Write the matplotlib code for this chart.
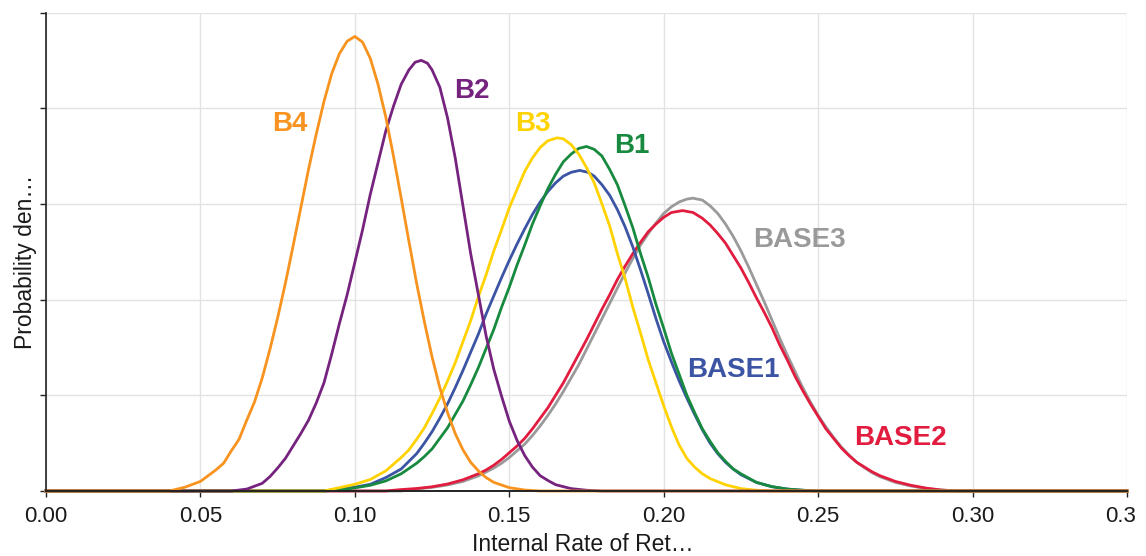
import matplotlib
matplotlib.use("Agg")
import matplotlib.pyplot as plt
import matplotlib.transforms as mtransforms

# density curves as (irr, density) points
b4 = [(0.000, 0), (0.040, 0), (0.045, 0.04), (0.050, 0.10), (0.055, 0.22), (0.0575, 0.29),
      (0.060, 0.42), (0.0625, 0.54), (0.065, 0.74), (0.0675, 0.93), (0.070, 1.18), (0.0725, 1.48),
      (0.075, 1.81), (0.0775, 2.17), (0.080, 2.56), (0.0825, 2.96), (0.085, 3.36), (0.0875, 3.73),
      (0.090, 4.07), (0.0925, 4.36), (0.095, 4.57), (0.0975, 4.70), (0.100, 4.75), (0.1025, 4.69),
      (0.105, 4.52), (0.1075, 4.25), (0.110, 3.91), (0.1125, 3.50), (0.115, 3.06), (0.1175, 2.61),
      (0.120, 2.17), (0.1225, 1.77), (0.125, 1.40), (0.1275, 1.08), (0.130, 0.82), (0.1325, 0.60),
      (0.135, 0.43), (0.1375, 0.30), (0.140, 0.21), (0.1425, 0.14), (0.145, 0.09), (0.150, 0.035),
      (0.155, 0.01), (0.160, 0), (0.350, 0)]

b2 = [(0.000, 0), (0.060, 0), (0.065, 0.02), (0.070, 0.08), (0.0725, 0.15), (0.075, 0.24),
      (0.0775, 0.34), (0.080, 0.47), (0.0825, 0.60), (0.085, 0.74), (0.0875, 0.92), (0.090, 1.13),
      (0.0925, 1.43), (0.095, 1.75), (0.0975, 2.05), (0.100, 2.39), (0.1025, 2.73), (0.105, 3.10),
      (0.1075, 3.43), (0.110, 3.76), (0.1125, 4.02), (0.115, 4.25), (0.1175, 4.40), (0.1195, 4.48),
      (0.1215, 4.50), (0.1235, 4.47), (0.125, 4.40), (0.1275, 4.22), (0.130, 3.90), (0.1325, 3.48),
      (0.135, 2.98), (0.1375, 2.48), (0.140, 2.05), (0.1425, 1.62), (0.145, 1.27), (0.1475, 0.99),
      (0.150, 0.73), (0.1525, 0.53), (0.155, 0.37), (0.1575, 0.25), (0.160, 0.16), (0.1625, 0.11),
      (0.165, 0.066), (0.170, 0.025), (0.175, 0.008), (0.180, 0), (0.350, 0)]

b3 = [(0.000, 0), (0.090, 0), (0.095, 0.035), (0.100, 0.07), (0.105, 0.12), (0.110, 0.21),
      (0.115, 0.35), (0.1175, 0.43), (0.120, 0.54), (0.1225, 0.66), (0.125, 0.81), (0.1275, 0.97),
      (0.130, 1.15), (0.1325, 1.34), (0.135, 1.56), (0.1375, 1.78), (0.140, 2.03), (0.1425, 2.26),
      (0.145, 2.51), (0.1475, 2.73), (0.150, 2.96), (0.1525, 3.15), (0.155, 3.34), (0.1575, 3.48),
      (0.160, 3.59), (0.1625, 3.66), (0.1655, 3.69), (0.1675, 3.68), (0.170, 3.62), (0.1725, 3.52),
      (0.175, 3.38), (0.1775, 3.22), (0.180, 3.00), (0.1825, 2.77), (0.185, 2.48), (0.1875, 2.22),
      (0.190, 1.92), (0.1925, 1.65), (0.195, 1.37), (0.1975, 1.13), (0.200, 0.89), (0.2025, 0.67),
      (0.205, 0.48), (0.2075, 0.34), (0.210, 0.25), (0.2125, 0.18), (0.215, 0.13), (0.220, 0.065),
      (0.225, 0.025), (0.230, 0.008), (0.235, 0), (0.350, 0)]

b1 = [(0.000, 0), (0.090, 0), (0.095, 0.01), (0.100, 0.033), (0.105, 0.06), (0.110, 0.105),
      (0.115, 0.18), (0.120, 0.29), (0.1225, 0.36), (0.125, 0.44), (0.1275, 0.55), (0.130, 0.66),
      (0.1325, 0.80), (0.135, 0.94), (0.1375, 1.11), (0.140, 1.29), (0.1425, 1.49), (0.145, 1.69),
      (0.1475, 1.92), (0.150, 2.13), (0.1525, 2.36), (0.155, 2.57), (0.1575, 2.79), (0.160, 2.98),
      (0.1625, 3.16), (0.165, 3.31), (0.1675, 3.44), (0.170, 3.52), (0.1725, 3.58), (0.175, 3.60),
      (0.1775, 3.57), (0.180, 3.50), (0.1825, 3.36), (0.185, 3.20), (0.1875, 2.98), (0.190, 2.75),
      (0.1925, 2.48), (0.195, 2.23), (0.1975, 1.95), (0.200, 1.70), (0.2025, 1.44), (0.205, 1.22),
      (0.2075, 1.00), (0.210, 0.82), (0.2125, 0.65), (0.215, 0.52), (0.2175, 0.40), (0.220, 0.31),
      (0.2225, 0.23), (0.225, 0.18), (0.230, 0.09), (0.235, 0.046), (0.240, 0.02), (0.245, 0.008),
      (0.250, 0), (0.350, 0)]

base1 = [(0.000, 0), (0.090, 0), (0.095, 0.02), (0.100, 0.04), (0.105, 0.07), (0.110, 0.14),
         (0.115, 0.23), (0.1175, 0.31), (0.120, 0.39), (0.1225, 0.50), (0.125, 0.62), (0.1275, 0.76),
         (0.130, 0.91), (0.1325, 1.08), (0.135, 1.26), (0.1375, 1.45), (0.140, 1.64), (0.1425, 1.85),
         (0.145, 2.04), (0.1475, 2.23), (0.150, 2.41), (0.1525, 2.58), (0.155, 2.74), (0.1575, 2.89),
         (0.160, 3.02), (0.1625, 3.13), (0.165, 3.22), (0.1675, 3.29), (0.170, 3.33), (0.1728, 3.35),
         (0.1755, 3.33), (0.1775, 3.29), (0.180, 3.20), (0.1825, 3.09), (0.185, 2.94), (0.1875, 2.76),
         (0.190, 2.55), (0.1925, 2.31), (0.195, 2.06), (0.1975, 1.80), (0.200, 1.56), (0.2025, 1.35),
         (0.205, 1.15), (0.2075, 0.97), (0.210, 0.80), (0.2125, 0.64), (0.215, 0.50), (0.2175, 0.39),
         (0.220, 0.30), (0.2225, 0.23), (0.225, 0.17), (0.230, 0.09), (0.235, 0.045), (0.240, 0.02),
         (0.245, 0.008), (0.250, 0), (0.350, 0)]

base2 = [(0.000, 0), (0.110, 0), (0.115, 0.015), (0.120, 0.026), (0.125, 0.044), (0.130, 0.073),
         (0.135, 0.117), (0.140, 0.18), (0.1425, 0.22), (0.145, 0.27), (0.1475, 0.33), (0.150, 0.40),
         (0.1525, 0.47), (0.155, 0.55), (0.1575, 0.65), (0.160, 0.76), (0.1625, 0.87), (0.165, 1.00),
         (0.1675, 1.13), (0.170, 1.28), (0.1725, 1.43), (0.175, 1.58), (0.1775, 1.74), (0.180, 1.90),
         (0.1825, 2.05), (0.185, 2.21), (0.1875, 2.35), (0.190, 2.48), (0.1925, 2.60), (0.195, 2.71),
         (0.1975, 2.79), (0.200, 2.86), (0.2025, 2.91), (0.2061, 2.93), (0.2095, 2.91), (0.2125, 2.85),
         (0.215, 2.78), (0.2175, 2.69), (0.220, 2.59), (0.2225, 2.46), (0.225, 2.33), (0.2275, 2.18),
         (0.230, 2.02), (0.2325, 1.87), (0.235, 1.71), (0.2375, 1.53), (0.240, 1.37), (0.2425, 1.20),
         (0.245, 1.05), (0.2475, 0.91), (0.250, 0.78), (0.2525, 0.65), (0.255, 0.55), (0.2575, 0.45),
         (0.260, 0.37), (0.2625, 0.30), (0.265, 0.25), (0.2675, 0.20), (0.270, 0.16), (0.275, 0.10),
         (0.280, 0.06), (0.285, 0.03), (0.290, 0.01), (0.295, 0), (0.350, 0)]

base3 = [(0.000, 0), (0.115, 0), (0.120, 0.022), (0.125, 0.038), (0.130, 0.063), (0.135, 0.10),
         (0.140, 0.158), (0.145, 0.24), (0.1475, 0.29), (0.150, 0.35), (0.1525, 0.42), (0.155, 0.49),
         (0.1575, 0.58), (0.160, 0.68), (0.1625, 0.79), (0.165, 0.91), (0.1675, 1.04), (0.170, 1.18),
         (0.1725, 1.32), (0.175, 1.48), (0.1775, 1.64), (0.180, 1.80), (0.1825, 1.96), (0.185, 2.12),
         (0.1875, 2.28), (0.190, 2.43), (0.1925, 2.57), (0.195, 2.69), (0.1975, 2.80), (0.200, 2.90),
         (0.2025, 2.97), (0.205, 3.02), (0.2075, 3.05), (0.2094, 3.06), (0.2125, 3.04), (0.215, 2.98),
         (0.2175, 2.90), (0.220, 2.79), (0.2225, 2.66), (0.225, 2.51), (0.2275, 2.34), (0.230, 2.16),
         (0.2325, 1.98), (0.235, 1.79), (0.2375, 1.60), (0.240, 1.42), (0.2425, 1.25), (0.245, 1.08),
         (0.2475, 0.93), (0.250, 0.79), (0.2525, 0.67), (0.255, 0.56), (0.2575, 0.46), (0.260, 0.375),
         (0.2625, 0.30), (0.265, 0.243), (0.2675, 0.19), (0.270, 0.15), (0.275, 0.09), (0.280, 0.052),
         (0.285, 0.025), (0.290, 0.01), (0.295, 0), (0.350, 0)]

tick_values = [0.00, 0.05, 0.10, 0.15, 0.20, 0.25, 0.30, 0.35]
tick_labels = ["0.00", "0.05", "0.10", "0.15", "0.20", "0.25", "0.30", "0.3"]

# drawn bottom to top: name, points, colour, label position
series = [
    ("BASE3", base3, "#9a9a9a", (0.2441, 2.62)),
    ("BASE2", base2, "#e21c3f", (0.2765, 0.55)),
    ("BASE1", base1, "#3b54a3", (0.2227, 1.26)),
    ("B1", b1, "#178a3f", (0.1897, 3.61)),
    ("B3", b3, "#ffd200", (0.1577, 3.83)),
    ("B2", b2, "#76237f", (0.1379, 4.18)),
    ("B4", b4, "#f7931e", (0.0790, 3.83)),
]

plt.rcParams["font.family"] = ["Liberation Sans", "DejaVu Sans"]

fig = plt.figure(figsize=(11.46, 5.56), dpi=100)
ax = fig.add_axes([46 / 1146, 1 - 491 / 556, 1081 / 1146, 478.5 / 556])

for name, pts, color, pos in series:
    xs, ys = zip(*pts)
    ax.plot(xs, ys, color=color, lw=2.0, solid_joinstyle="round", clip_on=False)
    ax.text(pos[0], pos[1], name, color=color, fontsize=20, fontweight="bold",
            ha="center", va="center")

ax.set_xlim(0, 0.35)
ax.set_ylim(0, 5)
ax.set_xticks(tick_values)
ax.set_xticklabels(tick_labels)
ax.set_yticks([0, 1, 2, 3, 4, 5])
ax.set_yticklabels([])
ax.grid(True, color="#e3e3e3", lw=1.0)
ax.set_axisbelow(True)

for s in ["top", "right"]:
    ax.spines[s].set_visible(False)
ax.spines["left"].set_color("#222222")
ax.spines["bottom"].set_color("#222222")
ax.spines["left"].set_linewidth(1.2)
ax.spines["bottom"].set_linewidth(1.4)
ax.tick_params(axis="both", direction="out", length=4, width=1, color="#222222",
               labelsize=16, labelcolor="#1a1a1a", pad=7)

# the last label is cut in the original
last = ax.get_xticklabels()[-1]
last.set_transform(last.get_transform() + mtransforms.ScaledTranslation(-6 / 100, 0, fig.dpi_scale_trans))

ax.set_xlabel("Internal Rate of Ret…", fontsize=16.5, color="#1a1a1a")
ax.xaxis.set_label_coords(0.497, -0.088)
ax.set_ylabel("Probability den…", fontsize=16.5, color="#1a1a1a")
ax.yaxis.set_label_coords(-0.008, 0.479)

fig.savefig("out.png", dpi=100)
